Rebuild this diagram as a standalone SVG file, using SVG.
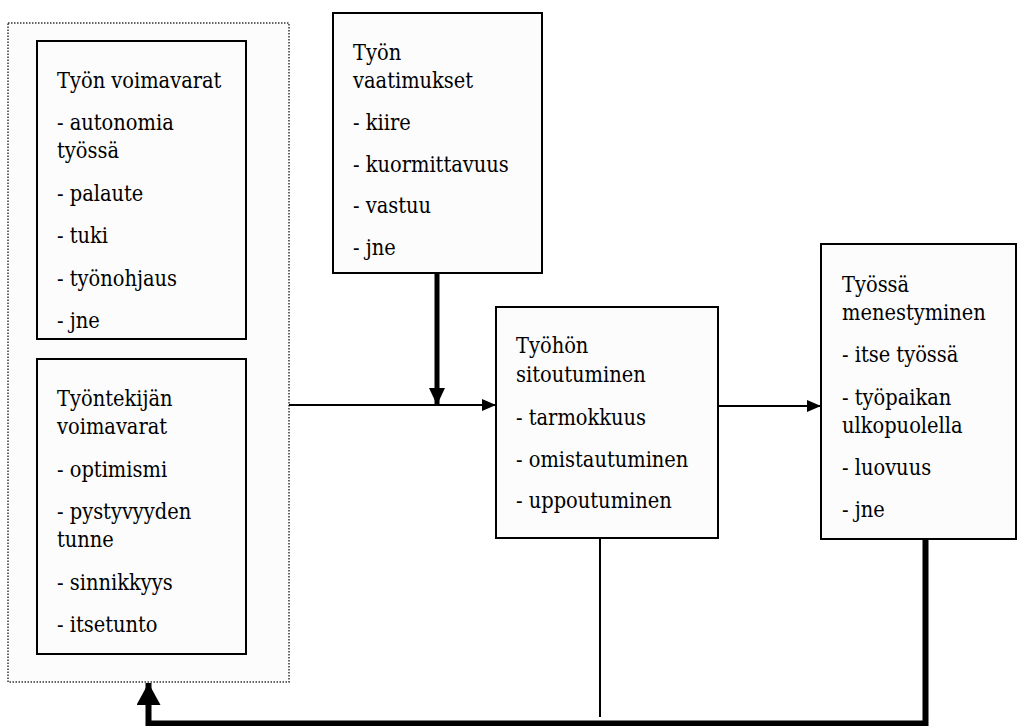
<svg xmlns="http://www.w3.org/2000/svg" width="1017" height="726" viewBox="0 0 1017 726">
<style>
.box{fill:#fcfcfc;stroke:#000;stroke-width:2}
.cont{fill:#fcfcfc;stroke:#333;stroke-width:1.5;stroke-dasharray:1.5 1.5}
.lbl text{font-family:'DejaVu Serif Condensed','DejaVu Serif',serif;font-stretch:condensed;font-size:21.6px;fill:#000}
.thin{fill:none;stroke:#000;stroke-width:2}
.thick{fill:none;stroke:#000;stroke-width:6}
</style>
<defs>
<marker id="ah" viewBox="0 0 14 12" refX="14" refY="6" markerWidth="14" markerHeight="12" markerUnits="userSpaceOnUse" orient="auto"><path d="M0,0 L14,6 L0,12 Z" fill="#000"/></marker>
<marker id="ahT" viewBox="0 0 17 16" refX="17" refY="8" markerWidth="17" markerHeight="16" markerUnits="userSpaceOnUse" orient="auto"><path d="M0,0 L17,8 L0,16 Z" fill="#000"/></marker>
<marker id="ahB" viewBox="0 0 22 24" refX="22" refY="12" markerWidth="22" markerHeight="24" markerUnits="userSpaceOnUse" orient="auto"><path d="M0,0 L22,12 L0,24 Z" fill="#000"/></marker>
</defs>
<rect width="1017" height="726" fill="#fff"/>
<g class="lbl">
<g id="resources">
<rect class="cont" x="8" y="23" width="281" height="659"/>
<g id="job-resources">
<rect class="box" x="37" y="41" width="209" height="298"/>
<text x="57" y="88">Työn voimavarat</text>
<text x="57" y="130">- autonomia</text>
<text x="57" y="158">työssä</text>
<text x="57" y="201">- palaute</text>
<text x="57" y="243">- tuki</text>
<text x="57" y="286">- työnohjaus</text>
<text x="57" y="328">- jne</text>
</g>
<g id="personal-resources">
<rect class="box" x="37" y="359" width="209" height="295"/>
<text x="57" y="406">Työntekijän</text>
<text x="57" y="434">voimavarat</text>
<text x="57" y="477">- optimismi</text>
<text x="57" y="519">- pystyvyyden</text>
<text x="57" y="547">tunne</text>
<text x="57" y="590">- sinnikkyys</text>
<text x="57" y="632">- itsetunto</text>
</g>
</g>
<g id="job-demands">
<rect class="box" x="333" y="13" width="209" height="260"/>
<text x="353" y="60">Työn</text>
<text x="353" y="88">vaatimukset</text>
<text x="353" y="130">- kiire</text>
<text x="353" y="172">- kuormittavuus</text>
<text x="353" y="213">- vastuu</text>
<text x="353" y="255">- jne</text>
</g>
<g id="engagement">
<rect class="box" x="496" y="307" width="222" height="231"/>
<text x="516" y="353">Työhön</text>
<text x="516" y="382">sitoutuminen</text>
<text x="516" y="425">- tarmokkuus</text>
<text x="516" y="467">- omistautuminen</text>
<text x="516" y="508">- uppoutuminen</text>
</g>
<g id="success">
<rect class="box" x="821" y="244" width="195" height="295"/>
<text x="842" y="292">Työssä</text>
<text x="842" y="320">menestyminen</text>
<text x="842" y="362">- itse työssä</text>
<text x="842" y="405">- työpaikan</text>
<text x="842" y="433">ulkopuolella</text>
<text x="842" y="475">- luovuus</text>
<text x="842" y="517">- jne</text>
</g>
</g>
<g id="connectors">
<line class="thin" x1="289" y1="405" x2="496" y2="405" marker-end="url(#ah)"/>
<line class="thick" style="stroke-width:5" x1="437" y1="273" x2="437" y2="405" marker-end="url(#ahT)"/>
<line class="thin" x1="718" y1="406" x2="821" y2="406" marker-end="url(#ah)"/>
<line class="thin" x1="600" y1="538" x2="600" y2="717"/>
<path class="thick" d="M925.5,539 L925.5,723.5 L148.5,723.5 L148.5,683" marker-end="url(#ahB)"/>
</g>
</svg>
